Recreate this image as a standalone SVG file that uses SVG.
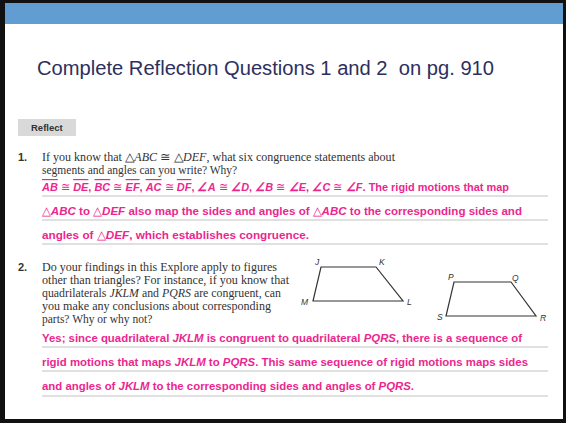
<svg xmlns="http://www.w3.org/2000/svg" width="566" height="423" viewBox="0 0 566 423">
<style>
.title{font-family:"Liberation Sans",Arial,sans-serif;font-size:20px;fill:#2d2f5e}
.q{font-family:"Liberation Serif","Times New Roman",serif;font-size:11.5px;fill:#333}
.num{font-family:"Liberation Sans",Arial,sans-serif;font-size:11px;font-weight:bold;fill:#333}
.pk{font-family:"Liberation Sans",Arial,sans-serif;font-size:11.8px;font-weight:bold;fill:#ec268f}
.it{font-style:italic}
.ol{text-decoration:overline}
.cg{font-weight:normal}
.rule{stroke:#d6d6d6;stroke-width:1.3}
.lbl{font-family:"Liberation Sans",Arial,sans-serif;font-size:8.5px;font-style:italic;fill:#333}
.shape{fill:none;stroke:#333;stroke-width:1.2}
</style>
<rect x="0" y="0" width="566" height="423" fill="#111"/>
<rect x="5" y="3" width="558" height="416" fill="#fff"/>
<rect x="5" y="3" width="558" height="21" fill="#629dd1"/>
<text class="title" x="37" y="75" textLength="457" lengthAdjust="spacingAndGlyphs" xml:space="preserve">Complete Reflection Questions 1 and 2  on pg. 910</text>

<g id="reflect">
<rect x="18" y="119" width="58" height="17" fill="#d9d9d9"/>
<text x="31" y="131" font-family="Liberation Sans, Arial, sans-serif" font-size="9.5" font-weight="bold" fill="#333">Reflect</text>
</g>

<g id="question1">
<text class="num" x="18" y="161">1.</text>
<text class="q" x="42" y="161" textLength="353" lengthAdjust="spacingAndGlyphs">If you know that △<tspan class="it">ABC</tspan> ≅ △<tspan class="it">DEF</tspan>, what six congruence statements about</text>
<text class="q" x="42" y="174">segments and angles can you write? Why?</text>
<text class="pk" x="42" y="191" textLength="467" lengthAdjust="spacingAndGlyphs"><tspan class="ol it">AB</tspan> <tspan class="cg">≅</tspan> <tspan class="ol it">DE</tspan>, <tspan class="ol it">BC</tspan> <tspan class="cg">≅</tspan> <tspan class="ol it">EF</tspan>, <tspan class="ol it">AC</tspan> <tspan class="cg">≅</tspan> <tspan class="ol it">DF</tspan>, <tspan class="it">∠A</tspan> <tspan class="cg">≅</tspan> <tspan class="it">∠D</tspan>, <tspan class="it">∠B</tspan> <tspan class="cg">≅</tspan> <tspan class="it">∠E</tspan>, <tspan class="it">∠C</tspan> <tspan class="cg">≅</tspan> <tspan class="it">∠F</tspan>. The rigid motions that map</text>
<line class="rule" x1="42" y1="196" x2="548" y2="196"/>
<text class="pk" x="42" y="215" textLength="480" lengthAdjust="spacingAndGlyphs"><tspan class="cg">△</tspan><tspan class="it">ABC</tspan> to <tspan class="cg">△</tspan><tspan class="it">DEF</tspan> also map the sides and angles of <tspan class="cg">△</tspan><tspan class="it">ABC</tspan> to the corresponding sides and</text>
<line class="rule" x1="42" y1="220" x2="548" y2="220"/>
<text class="pk" x="42" y="239" textLength="267" lengthAdjust="spacingAndGlyphs">angles of <tspan class="cg">△</tspan><tspan class="it">DEF</tspan>, which establishes congruence.</text>
<line class="rule" x1="42" y1="244" x2="548" y2="244"/>
</g>

<g id="question2">
<text class="num" x="18" y="271">2.</text>
<text class="q" x="42" y="271" textLength="235" lengthAdjust="spacingAndGlyphs">Do your findings in this Explore apply to figures</text>
<text class="q" x="42" y="284" textLength="247" lengthAdjust="spacingAndGlyphs">other than triangles? For instance, if you know that</text>
<text class="q" x="42" y="297" textLength="239" lengthAdjust="spacingAndGlyphs">quadrilaterals <tspan class="it">JKLM</tspan> and <tspan class="it">PQRS</tspan> are congruent, can</text>
<text class="q" x="42" y="310" textLength="229" lengthAdjust="spacingAndGlyphs">you make any conclusions about corresponding</text>
<text class="q" x="42" y="323">parts? Why or why not?</text>
<text class="pk" x="42" y="342" textLength="480" lengthAdjust="spacingAndGlyphs">Yes; since quadrilateral <tspan class="it">JKLM</tspan> is congruent to quadrilateral <tspan class="it">PQRS</tspan>, there is a sequence of</text>
<line class="rule" x1="42" y1="347" x2="548" y2="347"/>
<text class="pk" x="42" y="366" textLength="486" lengthAdjust="spacingAndGlyphs">rigid motions that maps <tspan class="it">JKLM</tspan> to <tspan class="it">PQRS</tspan>. This same sequence of rigid motions maps sides</text>
<line class="rule" x1="42" y1="371" x2="548" y2="371"/>
<text class="pk" x="42" y="390" textLength="372" lengthAdjust="spacingAndGlyphs">and angles of <tspan class="it">JKLM</tspan> to the corresponding sides and angles of <tspan class="it">PQRS</tspan>.</text>
<line class="rule" x1="42" y1="396" x2="548" y2="396"/>
</g>

<g id="quad-JKLM">
<polygon class="shape" points="321,267 376,267 403,301 313,301"/>
<text class="lbl" x="315" y="265">J</text>
<text class="lbl" x="379" y="265">K</text>
<text class="lbl" x="407" y="305">L</text>
<text class="lbl" x="301" y="305">M</text>
</g>

<g id="quad-PQRS">
<polygon class="shape" points="454,282 511,282 536,316 446,316"/>
<text class="lbl" x="448" y="280">P</text>
<text class="lbl" x="512" y="281">Q</text>
<text class="lbl" x="540" y="321">R</text>
<text class="lbl" x="437" y="320">S</text>
</g>
</svg>
